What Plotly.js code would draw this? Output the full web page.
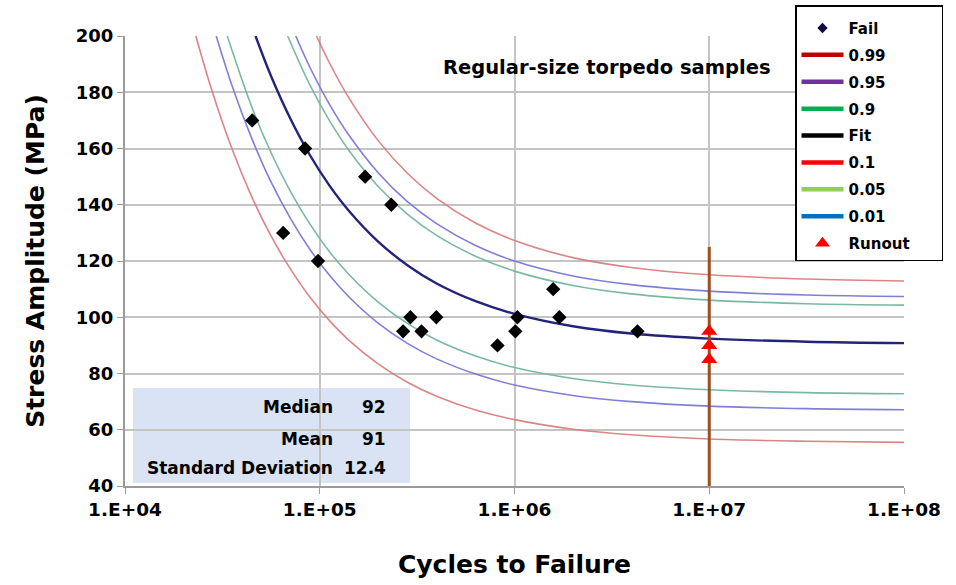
<!DOCTYPE html>
<html><head><meta charset="utf-8">
<script src="https://cdn.plot.ly/plotly-3.0.1.min.js"></script>
<style>html,body{margin:0;padding:0;background:#fff;}#chart{width:956px;height:585px;}</style>
</head><body><div id="chart"></div>
<script>
// Failures
const failN = [45000, 64900, 84100, 98000, 171000, 233000, 268000, 292000, 333000, 397000, 818000, 1010000, 1035000, 1580000, 1700000, 4280000];
const failS = [170, 130, 160, 120, 150, 140, 95, 100, 95, 100, 90, 95, 100, 110, 100, 95];
// Runouts
const runoutN = [10000000, 10000000, 10000000];
const runoutS = [95, 90, 85];
const runoutLineN = [10000000, 10000000];
const runoutLineS = [40, 125];
// Curves
const p99N = [96200, 112200, 141300, 199500, 281800, 398100, 631000, 1000000, 1995000, 3981000, 10000000, 31620000, 100000000];
const p99S = [200, 190.4, 177.9, 162.8, 151.2, 142.3, 133.5, 127.3, 121.2, 117.7, 115.1, 113.6, 112.9];
const p95N = [75300, 89100, 112200, 141300, 199500, 281800, 398100, 631000, 1000000, 1995000, 3981000, 10000000, 31620000, 100000000];
const p95S = [200, 188.8, 175.7, 164.7, 151.4, 141.1, 133.3, 125.5, 120.0, 114.7, 111.6, 109.3, 107.9, 107.4];
const p90N = [68400, 89100, 112200, 141300, 199500, 281800, 398100, 631000, 1000000, 1995000, 3981000, 10000000, 31620000, 100000000];
const p90S = [200, 182.5, 169.9, 159.3, 146.5, 136.7, 129.1, 121.7, 116.4, 111.3, 108.3, 106.1, 104.8, 104.3];
const fitN = [46800, 56200, 70800, 89100, 112200, 141300, 199500, 281800, 398100, 631000, 1000000, 1995000, 3981000, 10000000, 31620000, 100000000];
const fitS = [200, 185.8, 170.5, 157.6, 146.8, 137.8, 126.9, 118.5, 112.0, 105.7, 101.2, 96.8, 94.2, 92.4, 91.3, 90.8];
const p10N = [33500, 44700, 56200, 70800, 89100, 112200, 141300, 199500, 281800, 398100, 631000, 1000000, 1995000, 3981000, 10000000, 31620000, 100000000];
const p10S = [200, 174.9, 158.5, 144.7, 133.1, 123.3, 115.2, 105.4, 97.8, 91.9, 86.2, 82.1, 78.2, 75.9, 74.2, 73.2, 72.8];
const p05N = [29400, 35500, 44700, 56200, 70800, 89100, 112200, 141300, 199500, 281800, 398100, 631000, 1000000, 1995000, 3981000, 10000000, 31620000, 100000000];
const p05S = [200, 182.2, 163.7, 148.1, 135.1, 124.1, 114.9, 107.2, 97.9, 90.7, 85.2, 79.8, 75.9, 72.2, 70.0, 68.4, 67.5, 67.1];
const p01N = [23100, 28200, 35500, 44700, 56200, 70800, 89100, 112200, 141300, 199500, 281800, 398100, 631000, 1000000, 1995000, 3981000, 10000000, 31620000, 100000000];
const p01S = [200, 179.7, 159.7, 142.9, 128.9, 117.1, 107.1, 98.8, 91.8, 83.4, 76.9, 71.9, 67.0, 63.6, 60.2, 58.2, 56.7, 55.9, 55.5];
// Axis ticks
const xTickVals = [10000, 100000, 1000000, 10000000, 100000000];
const xTickText = ['1.E+04', '1.E+05', '1.E+06', '1.E+07', '1.E+08'];
// Legend entries
const legendNames = ['0.99', '0.95', '0.9', 'Fit', '0.1', '0.05', '0.01'];
const legendColors = ['#c00000', '#7030a0', '#00b050', '#000000', '#ff0000', '#92d050', '#0070c0'];
// Stats
const statLabels = ['Median', 'Mean', 'Standard Deviation'];
const statValues = ['92', '91', '12.4'];

const F = 'DejaVu Sans';
const cRed = 'rgba(215,120,120,0.9)', cPur = 'rgba(120,120,215,0.95)', cGrn = 'rgba(115,180,160,0.95)';
function curve(x, y, color, w) {
  return {x: x, y: y, mode: 'lines', type: 'scatter', line: {color: color, width: w, shape: 'spline', smoothing: 1}, showlegend: false, hoverinfo: 'skip'};
}
const NB = '\u00a0';
const traces = [
  curve(p99N, p99S, cRed, 1.6),
  curve(p95N, p95S, cPur, 1.6),
  curve(p90N, p90S, cGrn, 1.6),
  curve(p10N, p10S, cGrn, 1.6),
  curve(p05N, p05S, cPur, 1.6),
  curve(p01N, p01S, cRed, 1.6),
  curve(fitN, fitS, '#23237a', 2.4),
  {x: runoutLineN, y: runoutLineS, mode: 'lines', type: 'scatter', line: {color: '#9a4e22', width: 3}, showlegend: false},
  {x: failN, y: failS, mode: 'markers', type: 'scatter', name: 'Fail', showlegend: false,
   marker: {symbol: 'diamond', size: 11, color: '#000000'}},
  {x: runoutN, y: runoutS, mode: 'markers', type: 'scatter', name: 'Runout', showlegend: false,
   marker: {symbol: 'triangle-up', size: 14, color: '#ff0000'}},
  {x: [null], y: [null], mode: 'markers', type: 'scatter', name: 'Fail', legendgroup: 'g0',
   marker: {symbol: 'diamond', size: 8, color: '#101040'}}
];
legendNames.forEach((n, i) => traces.push({x: [null], y: [null], mode: 'lines', type: 'scatter', name: n, legendgroup: 'g' + (i + 1),
  line: {color: legendColors[i], width: 4.5}}));
traces.push({x: [null], y: [null], mode: 'markers', type: 'scatter', name: 'Runout' + NB.repeat(5), legendgroup: 'g9',
  marker: {symbol: 'triangle-up', size: 13, color: '#ff0000'}});

const L = 125, R = 904, T = 36, B = 486;
const px = v => (v - L) / (R - L), py = v => (B - v) / (B - T);
const annotations = [{
  text: 'Regular-size torpedo samples', xref: 'paper', yref: 'paper', x: px(607), y: py(67), yanchor: 'middle', xanchor: 'center',
  showarrow: false, font: {family: F, size: 19.5, weight: 'bold', color: '#000'}
}];
const rowsY = [407, 439, 468];
statLabels.forEach((s, i) => {
  annotations.push({text: s, xref: 'paper', yref: 'paper', x: px(335), y: py(rowsY[i]), xanchor: 'right', yanchor: 'middle', showarrow: false,
    font: {family: F, size: 17, weight: 'bold', color: '#000'}});
  annotations.push({text: statValues[i], xref: 'paper', yref: 'paper', x: px(388), y: py(rowsY[i]), xanchor: 'right', yanchor: 'middle', showarrow: false,
    font: {family: F, size: 17, weight: 'bold', color: '#000'}});
});

const layout = {
  width: 956, height: 585,
  margin: {l: L, r: 956 - R, t: T, b: 585 - B, autoexpand: false},
  paper_bgcolor: '#fff', plot_bgcolor: '#fff',
  font: {family: F, size: 16, weight: 'bold', color: '#000'},
  xaxis: {type: 'log', range: [4, 8], tickvals: xTickVals, ticktext: xTickText,
    showgrid: true, gridcolor: '#c4c4c4', gridwidth: 2, zeroline: false,
    showline: true, linecolor: '#9a9a9a', linewidth: 2, ticks: 'outside', ticklen: 6, tickcolor: '#9a9a9a',
    tickfont: {family: F, size: 18.5, weight: 'bold'},
    title: {text: 'Cycles to Failure', font: {family: F, size: 25, weight: 'bold'}, standoff: 36}},
  yaxis: {range: [40, 200], dtick: 20, tick0: 40,
    showgrid: true, gridcolor: '#c4c4c4', gridwidth: 2, zeroline: false,
    showline: true, linecolor: '#9a9a9a', linewidth: 2, ticks: 'outside', ticklen: 6, tickcolor: '#9a9a9a',
    tickfont: {family: F, size: 18, weight: 'bold'},
    title: {text: 'Stress Amplitude (MPa)', font: {family: F, size: 25, weight: 'bold'}, standoff: 24}},
  showlegend: true,
  legend: {x: px(795), y: py(5), xanchor: 'left', yanchor: 'top', bgcolor: '#fff', bordercolor: '#000', borderwidth: 1.5,
    font: {family: F, size: 15, weight: 'bold', color: '#000'}, itemwidth: 42, tracegroupgap: 4.4, traceorder: 'grouped',
    title: {text: NB, font: {family: F, size: 4}}},
  shapes: [
    {type: 'rect', xref: 'paper', yref: 'paper', x0: px(133), x1: px(410), y0: py(483), y1: py(388),
     fillcolor: '#dae3f3', line: {width: 0}, layer: 'between'},
    {type: 'rect', xref: 'paper', yref: 'paper', x0: px(430), x1: 1, y0: py(88), y1: py(39),
     fillcolor: '#fff', line: {width: 0}, layer: 'between'}
  ],
  annotations: annotations
};
Plotly.newPlot('chart', traces, layout, {displayModeBar: false, staticPlot: true});
</script></body></html>
